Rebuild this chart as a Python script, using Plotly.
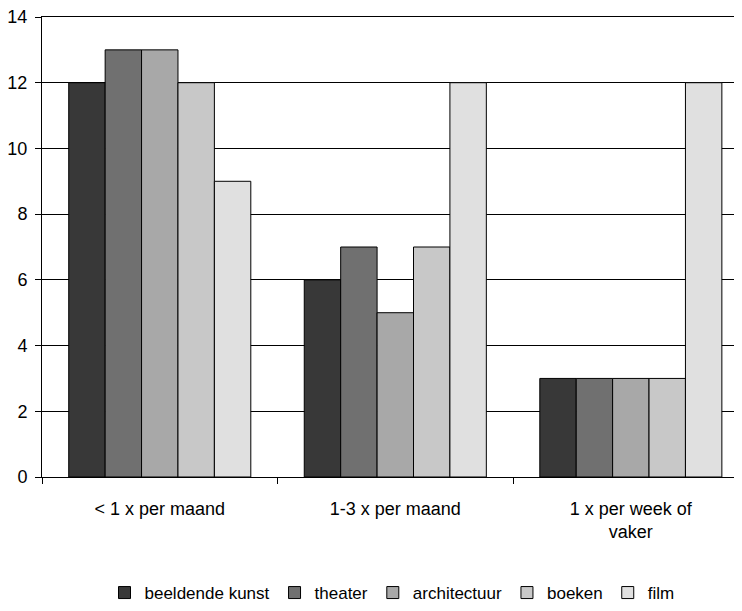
import plotly.graph_objects as go

categories = ["< 1 x per maand", "1-3 x per maand", "1 x per week of<br>vaker"]
series_names = ["beeldende kunst", "theater", "architectuur", "boeken", "film"]
beeldende_kunst = [12, 6, 3]
theater = [13, 7, 3]
architectuur = [13, 5, 3]
boeken = [12, 7, 3]
film = [9, 12, 12]
colors = ["#383838", "#707070", "#a8a8a8", "#c8c8c8", "#e0e0e0"]

values = [beeldende_kunst, theater, architectuur, boeken, film]

fig = go.Figure()
for name, vals, col in zip(series_names, values, colors):
    fig.add_trace(go.Bar(
        name=name, x=categories, y=vals,
        marker=dict(color=col, line=dict(color="#000000", width=1)),
    ))

font = "Liberation Sans, Arial, sans-serif"
fig.update_layout(
    width=734, height=603,
    margin=dict(l=34, r=0, t=9, b=128),
    barmode="group", bargap=0.227, bargroupgap=0,
    plot_bgcolor="white", paper_bgcolor="white",
    font=dict(family=font, size=18, color="#000000"),
    showlegend=True,
    legend=dict(orientation="h", x=0.5, xanchor="center", y=-0.253, yanchor="middle",
                font=dict(size=17), traceorder="normal", itemwidth=30,
                tracegroupgap=0),
    xaxis=dict(type="category", range=[-0.5, 2.472], showline=True, mirror=True,
               linecolor="#000000", linewidth=1, ticks="outside", tickson="boundaries",
               ticklen=6, tickcolor="#000000", showgrid=False, tickfont=dict(size=18),
               automargin=False, ticklabelstandoff=15),
    yaxis=dict(range=[0, 14], dtick=2, showline=True, linecolor="#000000", linewidth=1,
               ticks="outside", ticklen=6, tickcolor="#000000", showgrid=True,
               gridcolor="#000000", gridwidth=1, zeroline=False, tickfont=dict(size=18),
               automargin=False, ticklabelstandoff=4, ticklabeloverflow="allow"),
)
fig.write_html("out.html")
